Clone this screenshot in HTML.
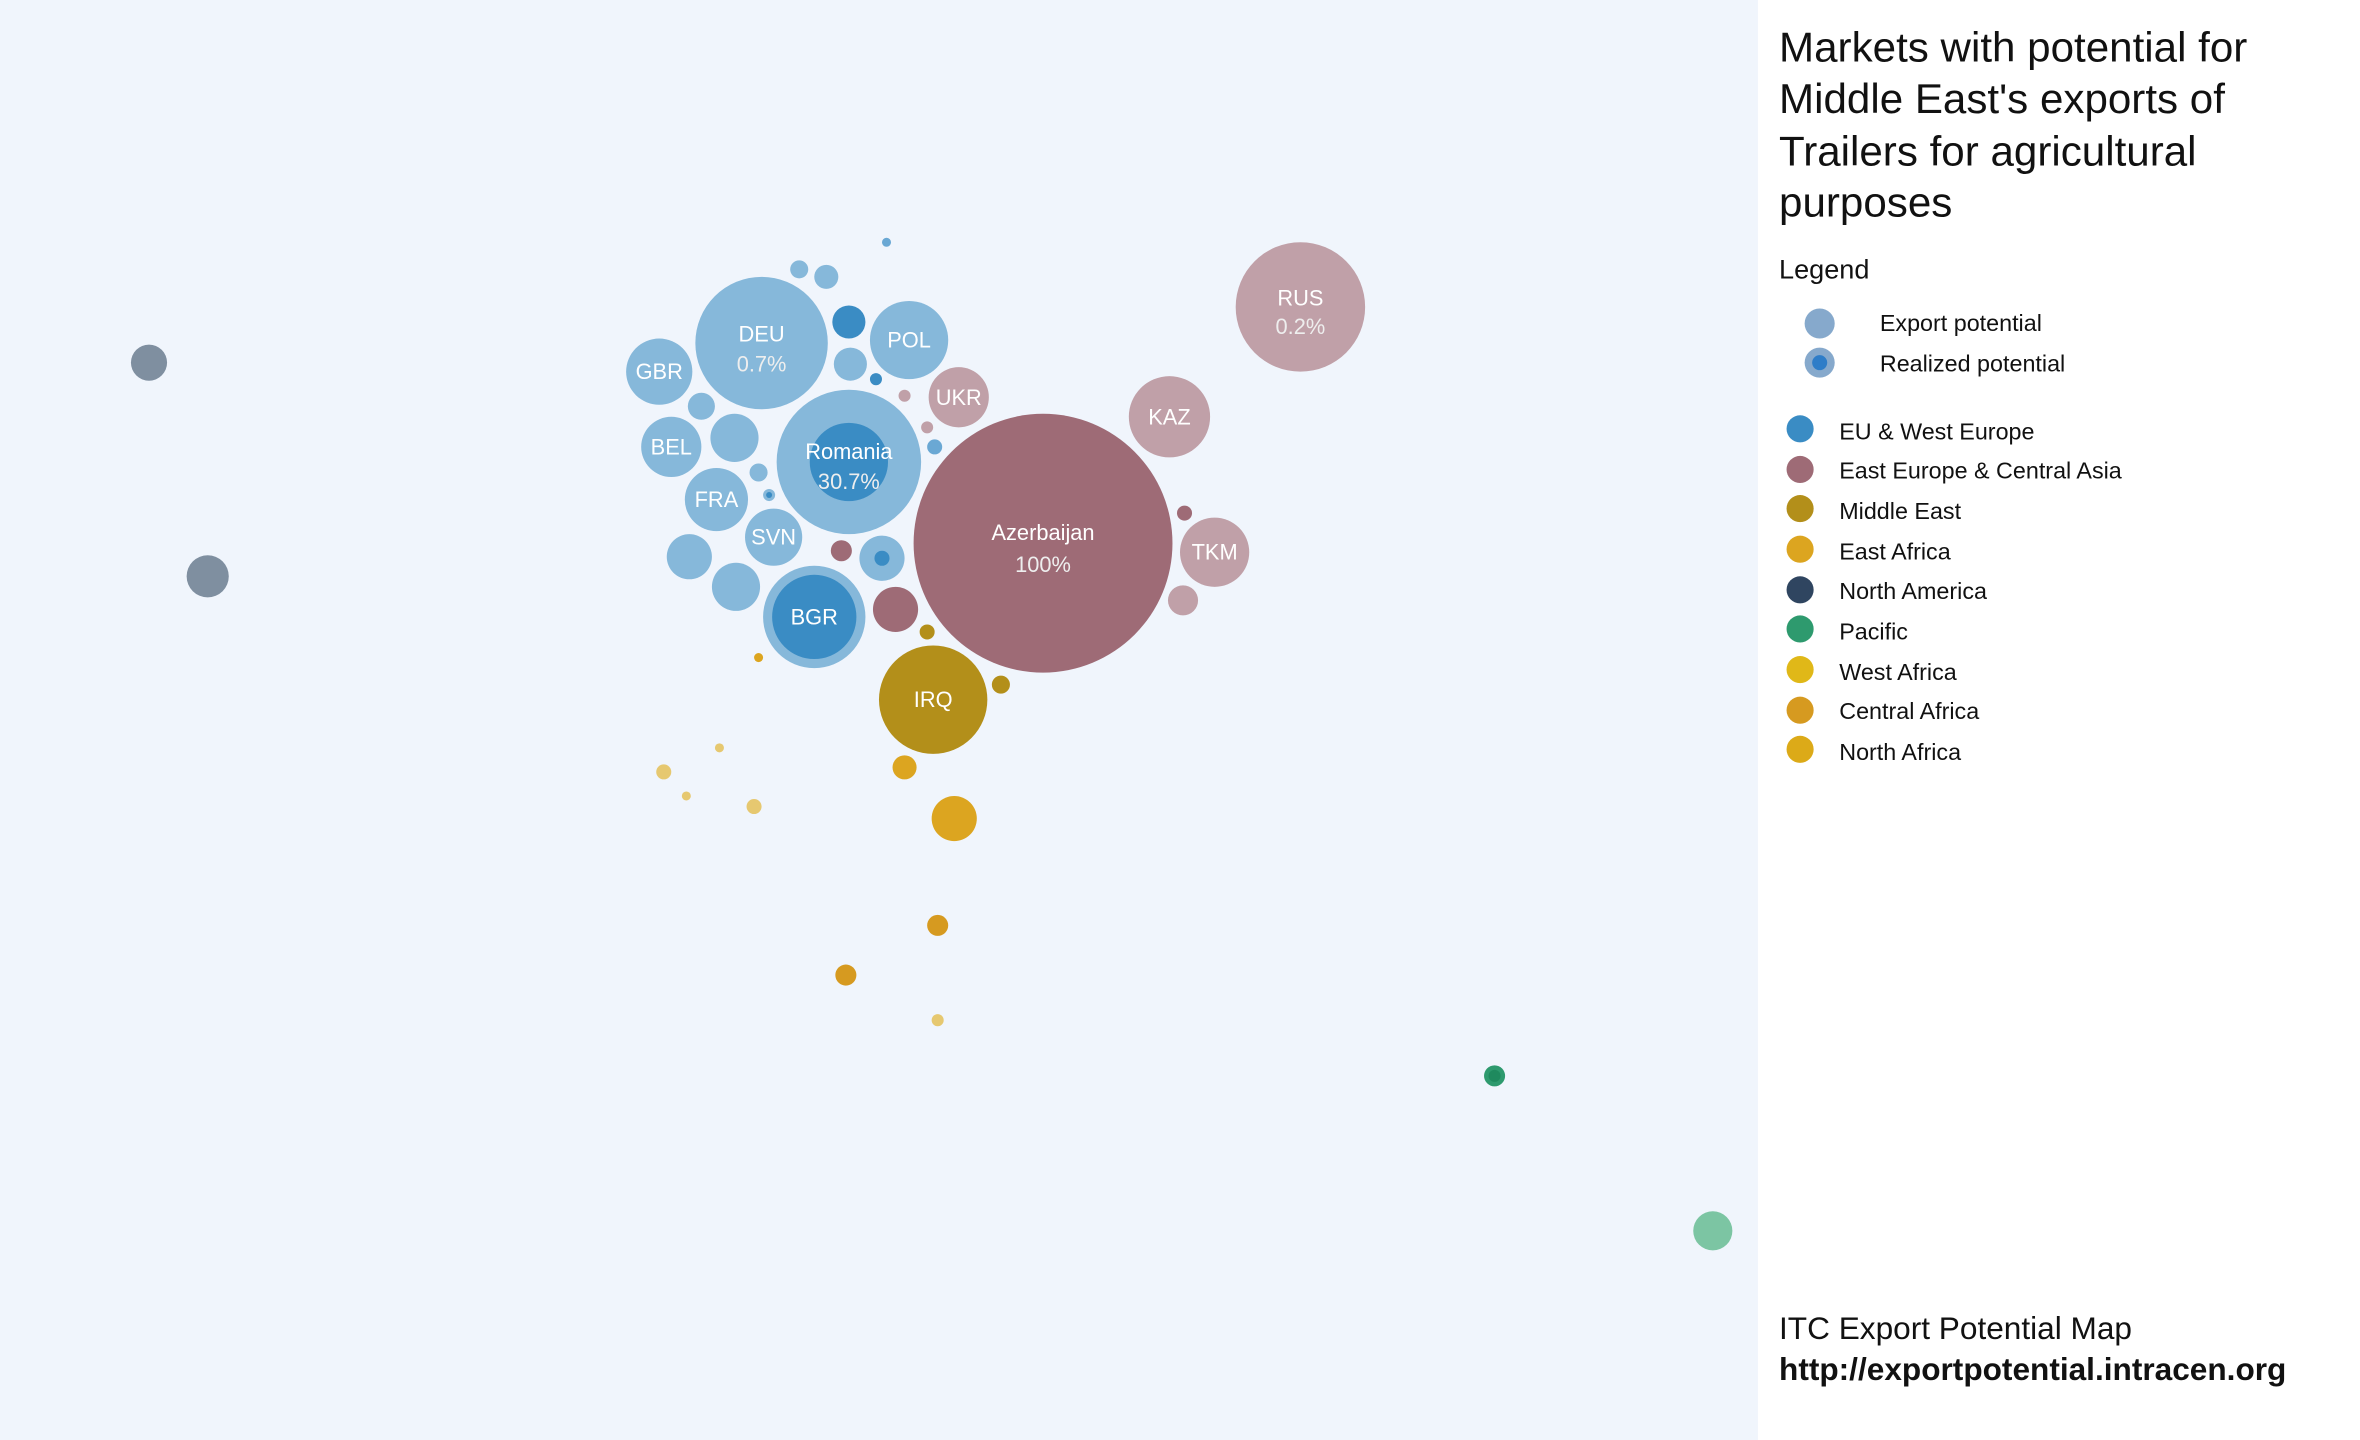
<!DOCTYPE html>
<html><head><meta charset="utf-8"><style>
html,body{margin:0;padding:0;background:#fff;}
svg{display:block;font-family:"Liberation Sans",Arial,sans-serif;}
</style></head><body>
<svg width="2360" height="1440" viewBox="0 0 1568 957" preserveAspectRatio="none" xmlns="http://www.w3.org/2000/svg">
<rect x="0" y="0" width="1168" height="957" fill="#f0f5fc"/>
<rect x="1168" y="0" width="400" height="957" fill="#ffffff"/>
<g>
<circle cx="99" cy="241" r="12" fill="#7f8fa0"/>
<circle cx="138" cy="383" r="14" fill="#7f8fa0"/>
<circle cx="993" cy="715" r="7" fill="#2e9a6e"/>
<circle cx="993" cy="715" r="4" fill="#1f8a5e"/>
<circle cx="1138" cy="818" r="13" fill="#7cc5a3"/>
<circle cx="634" cy="544" r="15" fill="#dca520"/>
<circle cx="601" cy="510" r="8" fill="#dca520"/>
<circle cx="623" cy="615" r="7" fill="#d69a20"/>
<circle cx="562" cy="648" r="7" fill="#d69a20"/>
<circle cx="623" cy="678" r="4" fill="#e6c870"/>
<circle cx="501" cy="536" r="5" fill="#e6c870"/>
<circle cx="441" cy="513" r="5" fill="#e6c870"/>
<circle cx="456" cy="529" r="3" fill="#e6c870"/>
<circle cx="478" cy="497" r="3" fill="#e6c870"/>
<circle cx="504" cy="437" r="3" fill="#dca520"/>
<circle cx="616" cy="420" r="5" fill="#b38f1a"/>
<circle cx="665" cy="455" r="6" fill="#b38f1a"/>
<circle cx="620" cy="465" r="36" fill="#b38f1a"/>
<circle cx="693" cy="361" r="86" fill="#9e6b76"/>
<circle cx="864" cy="204" r="43" fill="#c0a0a8"/>
<circle cx="777" cy="277" r="27" fill="#c0a0a8"/>
<circle cx="807" cy="367" r="23" fill="#c0a0a8"/>
<circle cx="637" cy="264" r="20" fill="#c0a0a8"/>
<circle cx="595" cy="405" r="15" fill="#9e6b76"/>
<circle cx="559" cy="366" r="7" fill="#9e6b76"/>
<circle cx="787" cy="341" r="5" fill="#9e6b76"/>
<circle cx="786" cy="399" r="10" fill="#c0a0a8"/>
<circle cx="601" cy="263" r="4" fill="#c0a0a8"/>
<circle cx="616" cy="284" r="4" fill="#c0a0a8"/>
<circle cx="564" cy="307" r="48" fill="#86b8da"/>
<circle cx="564" cy="307" r="26" fill="#3a8cc4"/>
<circle cx="506" cy="228" r="44" fill="#86b8da"/>
<circle cx="604" cy="226" r="26" fill="#86b8da"/>
<circle cx="438" cy="247" r="22" fill="#86b8da"/>
<circle cx="446" cy="297" r="20" fill="#86b8da"/>
<circle cx="476" cy="332" r="21" fill="#86b8da"/>
<circle cx="514" cy="357" r="19" fill="#86b8da"/>
<circle cx="541" cy="410" r="34" fill="#86b8da"/>
<circle cx="541" cy="410" r="28" fill="#3a8cc4"/>
<circle cx="564" cy="214" r="11" fill="#3a8cc4"/>
<circle cx="565" cy="242" r="11" fill="#86b8da"/>
<circle cx="549" cy="184" r="8" fill="#86b8da"/>
<circle cx="531" cy="179" r="6" fill="#86b8da"/>
<circle cx="589" cy="161" r="3" fill="#6aa8d4"/>
<circle cx="466" cy="270" r="9" fill="#86b8da"/>
<circle cx="488" cy="291" r="16" fill="#86b8da"/>
<circle cx="504" cy="314" r="6" fill="#86b8da"/>
<circle cx="511" cy="329" r="4" fill="#86b8da"/>
<circle cx="511" cy="329" r="2" fill="#3a8cc4"/>
<circle cx="458" cy="370" r="15" fill="#86b8da"/>
<circle cx="489" cy="390" r="16" fill="#86b8da"/>
<circle cx="586" cy="371" r="15" fill="#86b8da"/>
<circle cx="586" cy="371" r="5" fill="#3a8cc4"/>
<circle cx="582" cy="252" r="4" fill="#3a8cc4"/>
<circle cx="621" cy="297" r="5" fill="#6aa8d4"/>
</g>
<g fill="#fff" font-size="14.5" text-anchor="middle">
<text x="693" y="359">Azerbaijan</text>
<text x="693" y="380" fill="#eee">100%</text>
<text x="864" y="203">RUS</text>
<text x="864" y="222" fill="#eee">0.2%</text>
<text x="777" y="282">KAZ</text>
<text x="807" y="372">TKM</text>
<text x="637" y="269">UKR</text>
<text x="564" y="305">Romania</text>
<text x="564" y="325" fill="#eee">30.7%</text>
<text x="506" y="227">DEU</text>
<text x="506" y="247" fill="#eee">0.7%</text>
<text x="604" y="231">POL</text>
<text x="438" y="252">GBR</text>
<text x="446" y="302">BEL</text>
<text x="476" y="337">FRA</text>
<text x="514" y="362">SVN</text>
<text x="541" y="415">BGR</text>
<text x="620" y="470">IRQ</text>
</g>
<g fill="#111">
<text x="1182" y="41" font-size="28">Markets with potential for</text>
<text x="1182" y="75" font-size="28">Middle East's exports of</text>
<text x="1182" y="110" font-size="28">Trailers for agricultural</text>
<text x="1182" y="144" font-size="28">purposes</text>
<text x="1182" y="185" font-size="18">Legend</text>
<circle cx="1209" cy="215" r="10" fill="#86a9cc"/>
<text x="1249" y="220" font-size="15.5">Export potential</text>
<circle cx="1209" cy="241" r="10" fill="#86a9cc"/>
<circle cx="1209" cy="241" r="5" fill="#2e7dc8"/>
<text x="1249" y="247" font-size="15.5">Realized potential</text>
<circle cx="1196" cy="285" r="9" fill="#3a8cc4"/>
<text x="1222" y="292" font-size="15.5">EU &amp; West Europe</text>
<circle cx="1196" cy="312" r="9" fill="#9e6b76"/>
<text x="1222" y="318" font-size="15.5">East Europe &amp; Central Asia</text>
<circle cx="1196" cy="338" r="9" fill="#b38f1a"/>
<text x="1222" y="345" font-size="15.5">Middle East</text>
<circle cx="1196" cy="365" r="9" fill="#dca520"/>
<text x="1222" y="372" font-size="15.5">East Africa</text>
<circle cx="1196" cy="392" r="9" fill="#2f4560"/>
<text x="1222" y="398" font-size="15.5">North America</text>
<circle cx="1196" cy="418" r="9" fill="#2e9a6e"/>
<text x="1222" y="425" font-size="15.5">Pacific</text>
<circle cx="1196" cy="445" r="9" fill="#e0b818"/>
<text x="1222" y="452" font-size="15.5">West Africa</text>
<circle cx="1196" cy="472" r="9" fill="#d69a20"/>
<text x="1222" y="478" font-size="15.5">Central Africa</text>
<circle cx="1196" cy="498" r="9" fill="#dcaa18"/>
<text x="1222" y="505" font-size="15.5">North Africa</text>
<text x="1182" y="890" font-size="21">ITC Export Potential Map</text>
<text x="1182" y="917" font-size="21" font-weight="bold">http://exportpotential.intracen.org</text>
</g>
</svg>
</body></html>
